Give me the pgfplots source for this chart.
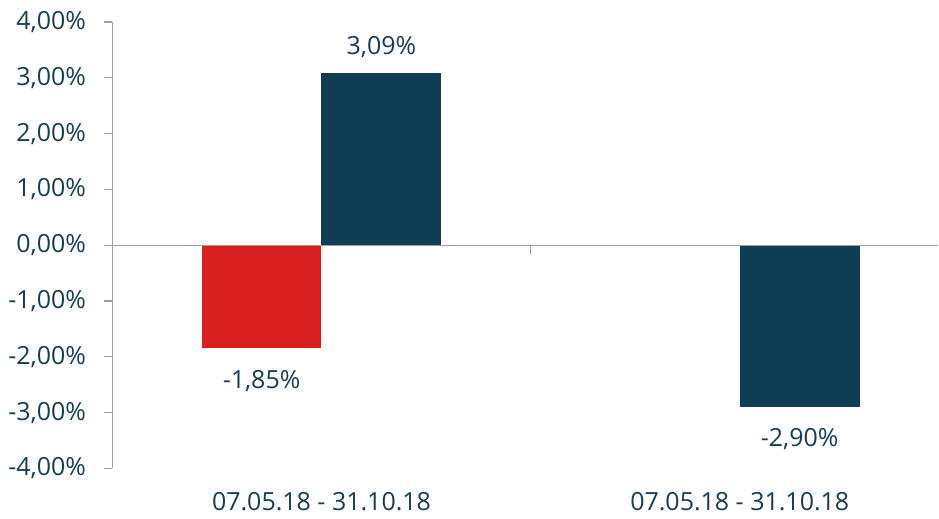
\documentclass[border=0pt]{standalone}
\usepackage{pgfplots}
\pgfplotsset{compat=1.18}
\usepackage{fontspec}
\setmainfont{Open Sans}
\definecolor{txt}{HTML}{173D54}
\definecolor{barblue}{HTML}{0F3D55}
\definecolor{barred}{HTML}{DA1F1F}
\definecolor{axgray}{HTML}{A0A0A0}
\begin{document}
\fontsize{25}{30}\selectfont
\begin{tikzpicture}
\begin{axis}[
  name=ax,
  scale only axis,
  width=827pt, height=447pt,
  xmin=-0.5, xmax=1.475,
  ymin=-4, ymax=4,
  axis y line*=left,
  axis x line*=bottom,
  x axis line style={draw=none},
  y axis line style={draw=axgray, line width=1.2pt},
  ytick={-4,-3,-2,-1,0,1,2,3,4},
  xtick={0,1},
  xticklabels={07.05.18 - 31.10.18, 07.05.18 - 31.10.18},
  major x tick style={draw=none},
  major y tick style={draw=axgray, line width=1.2pt},
  tick align=outside,
  major tick length=8pt,
  /pgf/number format/assume math mode=true,
  yticklabel={\pgfmathprintnumber[fixed,fixed zerofill,precision=2,use comma]{\tick}\%},
  yticklabel style={font=\fontsize{25}{30}\selectfont, text=txt, xshift=-10pt},
  xticklabel style={font=\fontsize{25}{30}\selectfont, text=txt, yshift=-7pt},
  ybar, bar width=120pt,
  nodes near coords,
  point meta=explicit symbolic,
  nodes near coords style={font=\fontsize{25}{30}\selectfont, text=txt},
  clip=false,
]
\addplot[fill=barred, draw=none, bar shift=-60pt,
  every node near coord/.append style={anchor=north, yshift=-13pt}]
  coordinates {(0,-1.85) [-1,85\%]};
\addplot[fill=barblue, draw=none, bar shift=60pt,
  every node near coord/.append style={anchor=south, yshift=7pt}]
  coordinates {(0,3.09) [3,09\%]};
\addplot[fill=barblue, draw=none, bar shift=60pt,
  every node near coord/.append style={anchor=north, yshift=-13pt}]
  coordinates {(1,-2.90) [-2,90\%]};
\draw[axgray, line width=1.2pt] (axis cs:-0.5,0) -- (axis cs:1.475,0);
\draw[axgray, line width=1.2pt] (axis cs:0.5,0) -- (axis cs:0.5,-0.15);
\end{axis}
\path ([yshift=22pt]ax.north west);
\path ([yshift=-50pt]ax.south west);
\end{tikzpicture}
\end{document}
